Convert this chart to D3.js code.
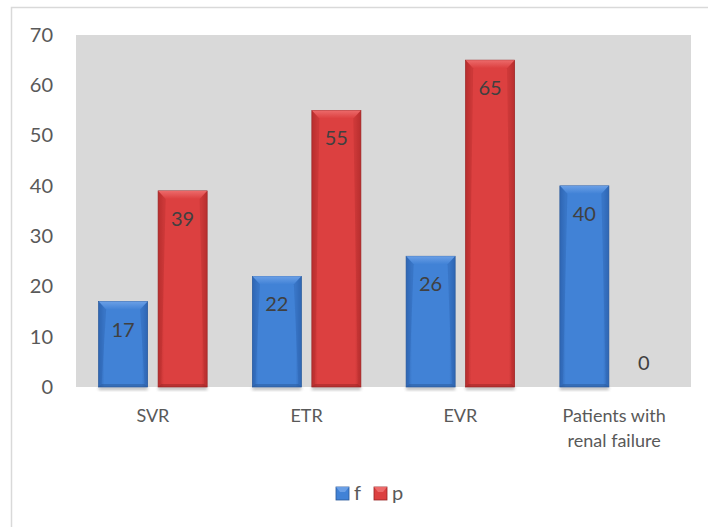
<!DOCTYPE html>
<html>
<head>
<meta charset="utf-8">
<script src="https://cdn.jsdelivr.net/npm/d3@7"></script>
<style>
  html, body { margin: 0; padding: 0; background: #fff; }
  svg { display: block; }
  text { font-family: Lato, "Open Sans", sans-serif; fill: #595959; }
</style>
</head>
<body>
<svg id="chart" width="708" height="527"></svg>
<script>
// Response categories and the two series
const categories = ["SVR", "ETR", "EVR", "Patients with\nrenal failure"];
const seriesNames = ["f", "p"];
const fValues = [17, 22, 26, 40];
const pValues = [39, 55, 65, 0];
const yTicks = [0, 10, 20, 30, 40, 50, 60, 70];

const palette = {
  f: { mid: "#4182d6", edge: "#2f66b3", top: "#6a9fe6", dark: "#2a5898" },
  p: { mid: "#dc4040", edge: "#b72e2e", top: "#ec6a6a", dark: "#962424" }
};

const W = 708, H = 527;
const plot = { left: 76, right: 691, top: 35, bottom: 387 };

const svg = d3.select("#chart");
const defs = svg.append("defs");

// horizontal shading for the bar bodies
seriesNames.forEach(s => {
  const g = defs.append("linearGradient").attr("id", "grad-" + s)
    .attr("x1", 0).attr("x2", 1).attr("y1", 0).attr("y2", 0);
  g.append("stop").attr("offset", "0%").attr("stop-color", palette[s].edge);
  g.append("stop").attr("offset", "12%").attr("stop-color", palette[s].mid);
  g.append("stop").attr("offset", "88%").attr("stop-color", palette[s].mid);
  g.append("stop").attr("offset", "100%").attr("stop-color", palette[s].edge);
  const t = defs.append("linearGradient").attr("id", "top-" + s)
    .attr("x1", 0).attr("x2", 0).attr("y1", 0).attr("y2", 1);
  t.append("stop").attr("offset", "0%").attr("stop-color", palette[s].top);
  t.append("stop").attr("offset", "100%").attr("stop-color", palette[s].mid);
});
const blur = defs.append("filter").attr("id", "shadow")
  .attr("x", "-20%").attr("y", "-50%").attr("width", "140%").attr("height", "200%");
blur.append("feGaussianBlur").attr("stdDeviation", 1.5);

// outer chart frame
svg.append("rect").attr("x", 11.5).attr("y", 7.5)
  .attr("width", W + 10).attr("height", H + 10)
  .attr("fill", "none").attr("stroke", "#d9d9d9").attr("stroke-width", 1.5);

// plot area background
svg.append("rect").attr("x", plot.left).attr("y", plot.top)
  .attr("width", plot.right - plot.left).attr("height", plot.bottom - plot.top)
  .attr("fill", "#d9d9d9");

const x0 = d3.scaleBand().domain(categories).range([plot.left, plot.right]).paddingInner(0).paddingOuter(0);
const x1 = d3.scaleBand().domain(seriesNames).range([0, x0.bandwidth()]).paddingInner(0.176).paddingOuter(0.38);
const y = d3.scaleLinear().domain([0, 70]).range([plot.bottom, plot.top]);

// y axis labels
const yAxis = d3.axisLeft(y).tickValues(yTicks).tickSize(0).tickPadding(0);
const yG = svg.append("g").attr("transform", `translate(${plot.left - 23},0)`).call(yAxis);
yG.select(".domain").remove();
yG.selectAll("text").style("font-size", "20px").attr("fill", "#595959")
  .style("font-family", "Lato, 'Open Sans', sans-serif");

// x axis category labels (two-line where needed)
const xG = svg.append("g");
categories.forEach(c => {
  const lines = c.split("\n");
  const t = xG.append("text").attr("x", x0(c) + x0.bandwidth() / 2).attr("y", 422)
    .attr("text-anchor", "middle").style("font-size", "18px");
  lines.forEach((ln, i) => t.append("tspan").attr("x", x0(c) + x0.bandwidth() / 2)
    .attr("dy", i === 0 ? 0 : 25).text(ln));
});

const rows = categories.map((c, i) => ({ cat: c, f: fValues[i], p: pValues[i] }));

function drawBar(g, s, bx, by, bw, bh) {
  const c = palette[s];
  if (bh <= 0) return;
  // soft shadow under the bar
  g.append("rect").attr("x", bx).attr("y", plot.bottom).attr("width", bw).attr("height", 3)
    .attr("fill", "#8c8c8c").attr("opacity", 0.6).attr("filter", "url(#shadow)");
  g.append("rect").attr("x", bx).attr("y", by).attr("width", bw).attr("height", bh)
    .attr("fill", `url(#grad-${s})`).attr("stroke", c.dark).attr("stroke-width", 0.7);
  const bev = Math.min(8, bh / 2), side = 3;
  // top bevel
  g.append("path").attr("d",
    `M${bx},${by}L${bx + bw},${by}L${bx + bw - side * 2.5},${by + bev}L${bx + side * 2.5},${by + bev}Z`)
    .attr("fill", `url(#top-${s})`);
  // side bevels
  g.append("path").attr("d",
    `M${bx},${by}L${bx + side * 2.5},${by + bev}L${bx + side},${by + bh - side}L${bx},${by + bh}Z`)
    .attr("fill", c.edge).attr("opacity", 0.45);
  g.append("path").attr("d",
    `M${bx + bw},${by}L${bx + bw - side * 2.5},${by + bev}L${bx + bw - side},${by + bh - side}L${bx + bw},${by + bh}Z`)
    .attr("fill", c.edge).attr("opacity", 0.45);
  // bottom bevel
  g.append("path").attr("d",
    `M${bx},${by + bh}L${bx + side},${by + bh - side}L${bx + bw - side},${by + bh - side}L${bx + bw},${by + bh}Z`)
    .attr("fill", c.dark).attr("opacity", 0.5);
}

const barsG = svg.append("g");
rows.forEach(r => {
  seriesNames.forEach(s => {
    const v = r[s];
    const bx = x0(r.cat) + x1(s);
    const bw = x1.bandwidth();
    const by = y(v);
    drawBar(barsG, s, bx, by, bw, y(0) - by);
    const ly = v > 0 ? by + 35 : y(0) - 17;
    barsG.append("text").attr("x", bx + bw / 2).attr("y", ly)
      .attr("text-anchor", "middle").style("font-size", "20px")
      .style("fill", "#404040").text(v);
  });
});

// legend
const legend = svg.append("g").attr("transform", "translate(336,487)");
const legItems = [{ s: "f", x: 0 }, { s: "p", x: 38 }];
legItems.forEach(it => {
  const c = palette[it.s];
  const gg = legend.append("g").attr("transform", `translate(${it.x},0)`);
  gg.append("rect").attr("width", 13).attr("height", 13).attr("fill", c.mid).attr("stroke", c.dark).attr("stroke-width", 0.8);
  gg.append("path").attr("d", "M0,0L13,0L9,5L4,5Z").attr("fill", c.top);
  gg.append("text").attr("x", 18).attr("y", 13).style("font-size", "20px").text(it.s);
});
</script>
</body>
</html>
